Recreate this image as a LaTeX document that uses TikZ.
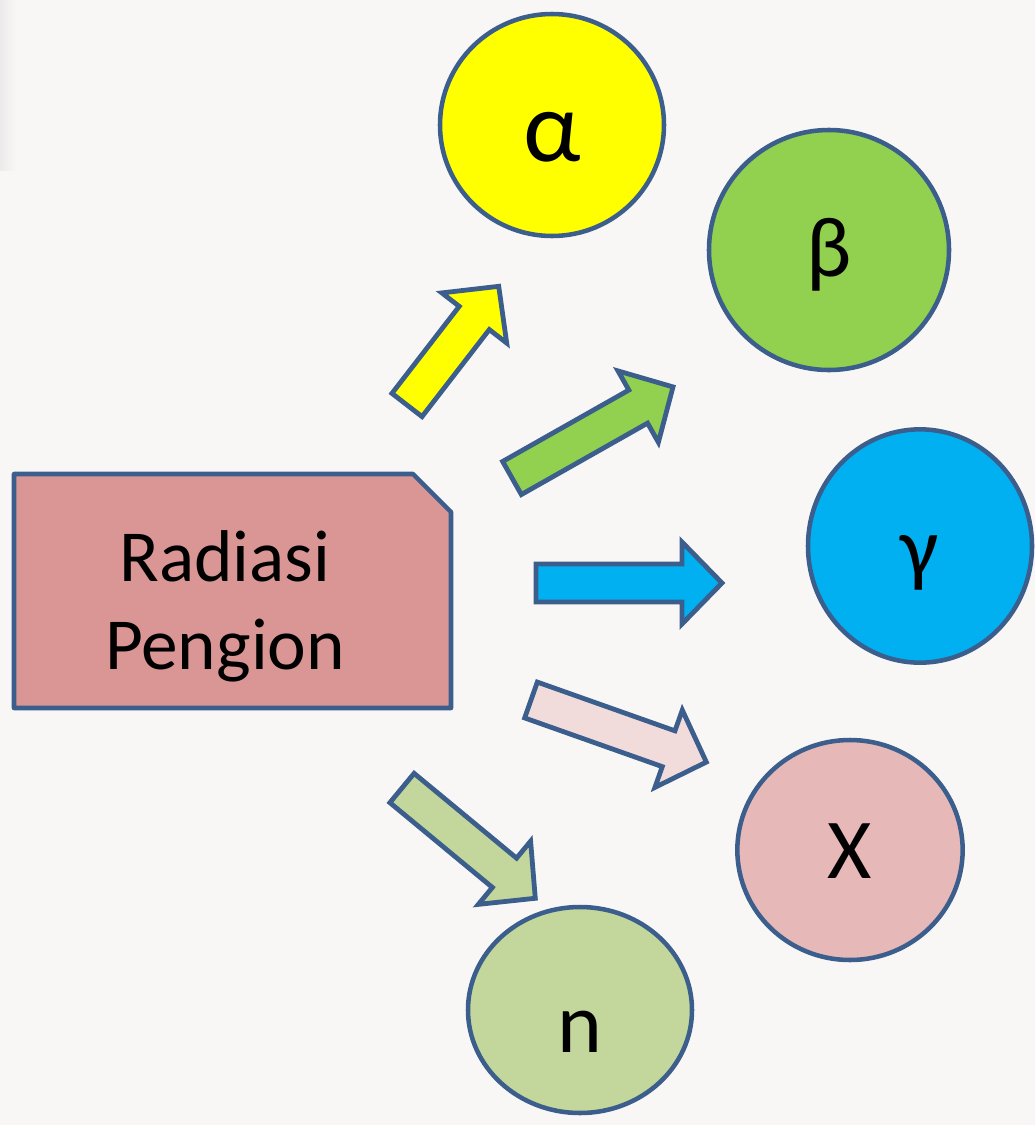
\documentclass[tikz,border=0pt]{standalone}
\usepackage{fontspec}
\setmainfont{Carlito}
\usetikzlibrary{shapes.geometric}
\definecolor{bg}{HTML}{F8F7F5}
\definecolor{edge}{HTML}{3B5E8D}
\definecolor{cyel}{HTML}{FFFF00}
\definecolor{cgrn}{HTML}{92D050}
\definecolor{cblu}{HTML}{00B0F0}
\definecolor{cpnk}{HTML}{F2DCDB}
\definecolor{colv}{HTML}{C3D69B}
\definecolor{crect}{HTML}{D99694}
\definecolor{cxc}{HTML}{E6B9B8}
\tikzset{
  ball/.style={ellipse, draw=edge, line width=3.4pt, inner sep=0pt},
  arrowline/.style={draw=edge, line width=3.6pt, line join=miter},
  lbl/.style={anchor=base, font=\fontsize{64}{70}\selectfont, inner sep=0pt},
}
\newcommand{\blockarr}[5]{%
  \begin{scope}[shift={#1}, rotate=#2]
    \coordinate (#5) at (#3,0);
    \draw[arrowline, fill=#4] (0,-19) -- ({#3-40},-19) -- ({#3-40},-41) -- (#3,0)
      -- ({#3-40},41) -- ({#3-40},19) -- (0,19) -- cycle;
  \end{scope}}
\begin{document}
\begin{tikzpicture}[x=0.75pt,y=-0.75pt]
\useasboundingbox (0,0) rectangle (1035,1125);
\fill[bg] (0,0) rectangle (1035,1125);
\shade[left color=black!8, right color=bg] (0,0) rectangle (16,170);

% source box
\draw[draw=edge, line width=3.4pt, fill=crect, line join=round]
  (14,474) -- (413,474) -- (451,512) -- (451,708) -- (14,708) -- cycle;
\node[align=center, font=\fontsize{55}{66}\selectfont, inner sep=0pt] (src) at (225,606) {Radiasi\\Pengion};

% circles
\node[ball, fill=cyel, minimum width=168pt, minimum height=166.5pt] (alpha) at (552,125) {};
\node[ball, fill=cgrn, minimum width=180pt, minimum height=180pt] (beta) at (829,250) {};
\node[ball, fill=cblu, minimum width=168pt, minimum height=175pt] (gamma) at (920,546) {};
\node[ball, fill=cxc, minimum width=169pt, minimum height=165pt] (xray) at (850,850) {};
\node[ball, fill=colv, minimum width=168pt, minimum height=154.5pt] (neut) at (580,1010) {};

\node[lbl, font=\fontsize{76}{80}\selectfont] (alphaT) at (552,161) {α};
\node[lbl] (betaT) at (829,276) {β};
\node[lbl] (gammaT) at (920,576) {γ};
\node[lbl] (xrayT) at (850,878) {X};
\node[lbl] (neutT) at (580,1052) {n};

% block arrows
\blockarr{(407,405)}{52.3}{150}{cyel}{ta}
\blockarr{(512,478)}{29.5}{185}{cgrn}{tb}
\blockarr{(536,583)}{0}{186}{cblu}{tg}
\blockarr{(531,700)}{-19.5}{186}{cpnk}{tx}
\blockarr{(402,788)}{-39.6}{173}{colv}{tn}
\end{tikzpicture}
\end{document}
